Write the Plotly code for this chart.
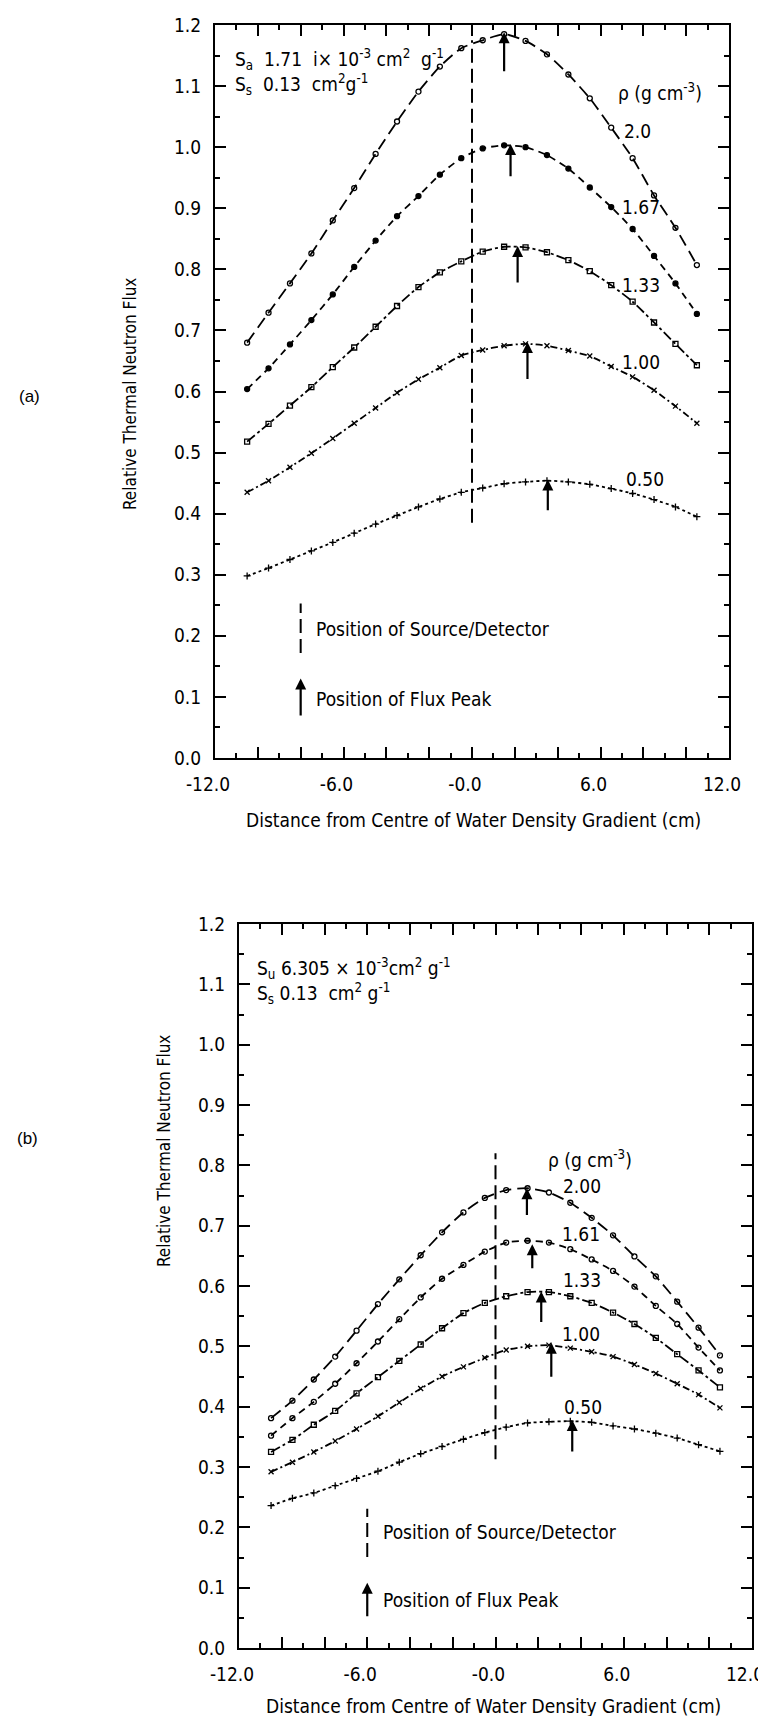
import plotly.graph_objects as go

# ---------------- data ----------------
x_pos = [-10.5, -9.5, -8.5, -7.5, -6.5, -5.5, -4.5, -3.5, -2.5, -1.5, -0.5,
         0.5, 1.5, 2.5, 3.5, 4.5, 5.5, 6.5, 7.5, 8.5, 9.5, 10.5]

# (a)
a_labels = ["2.0", "1.67", "1.33", "1.00", "0.50"]
a_200 = [0.680, 0.729, 0.777, 0.826, 0.880, 0.933, 0.989, 1.042, 1.091, 1.132, 1.162,
         1.175, 1.185, 1.174, 1.152, 1.119, 1.080, 1.032, 0.982, 0.921, 0.868, 0.807]
a_167 = [0.604, 0.638, 0.677, 0.717, 0.759, 0.804, 0.847, 0.887, 0.920, 0.955, 0.982,
         0.998, 1.003, 1.000, 0.987, 0.965, 0.934, 0.902, 0.866, 0.822, 0.777, 0.727]
a_133 = [0.518, 0.547, 0.577, 0.607, 0.640, 0.672, 0.706, 0.740, 0.771, 0.795, 0.813,
         0.829, 0.837, 0.836, 0.828, 0.815, 0.797, 0.774, 0.747, 0.713, 0.678, 0.643]
a_100 = [0.435, 0.454, 0.476, 0.499, 0.523, 0.548, 0.573, 0.598, 0.620, 0.639, 0.659,
         0.668, 0.675, 0.678, 0.675, 0.667, 0.658, 0.641, 0.624, 0.602, 0.576, 0.548]
a_050 = [0.298, 0.311, 0.325, 0.339, 0.353, 0.368, 0.383, 0.397, 0.411, 0.424, 0.435,
         0.442, 0.449, 0.452, 0.454, 0.452, 0.448, 0.441, 0.433, 0.423, 0.411, 0.395]
a_label_x = [7.75, 7.9, 7.9, 7.9, 8.1]
a_label_y = [1.027, 0.902, 0.775, 0.649, 0.456]
a_peak_x = [1.5, 1.8, 2.13, 2.59, 3.54]
a_peak_tip = [1.188, 1.005, 0.838, 0.681, 0.456]
a_peak_base = [1.122, 0.950, 0.776, 0.618, 0.403]
a_source_y = [0.385, 1.175]

# (b)
b_labels = ["2.00", "1.61", "1.33", "1.00", "0.50"]
b_200 = [0.381, 0.410, 0.445, 0.483, 0.526, 0.570, 0.611, 0.651, 0.689, 0.722, 0.746,
         0.759, 0.762, 0.755, 0.738, 0.713, 0.684, 0.649, 0.616, 0.574, 0.531, 0.485]
b_161 = [0.352, 0.381, 0.408, 0.438, 0.472, 0.508, 0.545, 0.581, 0.612, 0.635, 0.657,
         0.672, 0.675, 0.672, 0.661, 0.644, 0.625, 0.599, 0.567, 0.537, 0.498, 0.460]
b_133 = [0.325, 0.345, 0.370, 0.393, 0.422, 0.449, 0.476, 0.503, 0.530, 0.555, 0.572,
         0.583, 0.590, 0.590, 0.583, 0.572, 0.556, 0.537, 0.514, 0.487, 0.460, 0.432]
b_100 = [0.292, 0.308, 0.325, 0.343, 0.363, 0.384, 0.407, 0.430, 0.450, 0.466, 0.481,
         0.494, 0.500, 0.502, 0.497, 0.491, 0.483, 0.470, 0.455, 0.438, 0.420, 0.398]
b_050 = [0.236, 0.248, 0.257, 0.269, 0.281, 0.293, 0.308, 0.322, 0.334, 0.346, 0.357,
         0.366, 0.373, 0.375, 0.376, 0.374, 0.368, 0.363, 0.356, 0.348, 0.337, 0.326]
b_label_x = [4.06, 3.98, 4.06, 3.98, 4.1]
b_label_y = [0.766, 0.686, 0.610, 0.521, 0.399]
b_peak_x = [1.47, 1.72, 2.14, 2.61, 3.59]
b_peak_tip = [0.762, 0.669, 0.591, 0.506, 0.378]
b_peak_base = [0.715, 0.627, 0.538, 0.447, 0.323]
b_source_y = [0.313, 0.82]

x_tickvals = [-12, -10, -8, -6, -4, -2, 0, 2, 4, 6, 8, 10, 12]
x_ticktext = ["-12.0", "", "", "-6.0", "", "", "-0.0", "", "", "6.0", "", "", "12.0"]
y_tickvals = [0.0, 0.1, 0.2, 0.3, 0.4, 0.5, 0.6, 0.7, 0.8, 0.9, 1.0, 1.1, 1.2]

# ---------------- style ----------------
FONT = "DejaVu Sans Condensed, Liberation Sans Narrow, Roboto Condensed, DejaVu Sans, sans-serif"
dashes = ["12px,6px", "7px,5px", "10px,3px,3px,3px", "7px,3px,2px,3px", "3px,3px"]
a_symbols = ["circle-open", "circle", "square-open", "x-thin-open", "cross-thin-open"]
b_symbols = ["circle-open", "circle-open", "square-open", "x-thin-open", "cross-thin-open"]

fig = go.Figure()

def add_panel(xa, ya, series, symbols):
    for vals, dsh, sym in zip(series, dashes, symbols):
        fig.add_trace(go.Scatter(
            x=x_pos, y=vals, mode="lines+markers", xaxis=xa, yaxis=ya,
            line=dict(color="black", width=1.8, dash=dsh, shape="spline", smoothing=0.6),
            marker=dict(symbol=sym, size=5, color="black", line=dict(color="black", width=1.3)),
            showlegend=False, hoverinfo="skip"))

add_panel("x", "y", [a_200, a_167, a_133, a_100, a_050], a_symbols)
add_panel("x2", "y2", [b_200, b_161, b_133, b_100, b_050], b_symbols)

# source/detector vertical lines at x=0 and legend glyphs
for xa, ya, ys, legx, legy in [("x", "y", a_source_y, -8.0, [0.172, 0.253]),
                               ("x2", "y2", b_source_y, -6.0, [0.151, 0.231])]:
    fig.add_trace(go.Scatter(x=[0, 0], y=ys, mode="lines", xaxis=xa, yaxis=ya,
                             line=dict(color="black", width=2, dash="14px,6px"),
                             showlegend=False, hoverinfo="skip"))
    fig.add_trace(go.Scatter(x=[legx, legx], y=legy, mode="lines", xaxis=xa, yaxis=ya,
                             line=dict(color="black", width=2, dash="14px,6px"),
                             showlegend=False, hoverinfo="skip"))

ann = []

def arrow(xr, yr, x, tip, base):
    ann.append(dict(x=x, y=tip, ax=x, ay=base, xref=xr, yref=yr, axref=xr, ayref=yr,
                    text="", showarrow=True, arrowhead=2, arrowsize=1.0, arrowwidth=2.2,
                    arrowcolor="black", standoff=0, startstandoff=0))

for px, t, b in zip(a_peak_x, a_peak_tip, a_peak_base):
    arrow("x", "y", px, t, b)
for px, t, b in zip(b_peak_x, b_peak_tip, b_peak_base):
    arrow("x2", "y2", px, t, b)
arrow("x", "y", -8.0, 0.13, 0.067)
arrow("x2", "y2", -6.0, 0.108, 0.05)

def txt(xr, yr, x, y, s, size=19, xanchor="center"):
    ann.append(dict(x=x, y=y, xref=xr, yref=yr, text=s, showarrow=False,
                    xanchor=xanchor, yanchor="middle", font=dict(family=FONT, size=size, color="black")))

for lx, ly, s in zip(a_label_x, a_label_y, a_labels):
    txt("x", "y", lx, ly, s)
for lx, ly, s in zip(b_label_x, b_label_y, b_labels):
    txt("x2", "y2", lx, ly, s)

txt("x", "y", 8.8, 1.09, "ρ (g cm<sup>-3</sup>)")
txt("x2", "y2", 4.4, 0.81, "ρ (g cm<sup>-3</sup>)")

txt("x", "y", -11.15, 1.144, "S<sub>a</sub>  1.71  i× 10<sup>-3</sup> cm<sup>2</sup>  g<sup>-1</sup>", xanchor="left")
txt("x", "y", -11.15, 1.103, "S<sub>s</sub>  0.13  cm<sup>2</sup>g<sup>-1</sup>", xanchor="left")
txt("x2", "y2", -11.25, 1.126, "S<sub>u</sub> 6.305 × 10<sup>-3</sup>cm<sup>2</sup> g<sup>-1</sup>", xanchor="left")
txt("x2", "y2", -11.25, 1.084, "S<sub>s</sub> 0.13  cm<sup>2</sup> g<sup>-1</sup>", xanchor="left")

txt("x", "y", -7.4, 0.211, "Position of Source/Detector", xanchor="left")
txt("x", "y", -7.4, 0.097, "Position of Flux Peak", xanchor="left")
txt("x2", "y2", -5.35, 0.192, "Position of Source/Detector", xanchor="left")
txt("x2", "y2", -5.35, 0.080, "Position of Flux Peak", xanchor="left")

# paper-level labels
def ptxt(x, y, s, angle=0, size=19, family=FONT):
    ann.append(dict(x=x / 766, y=1 - y / 1716, xref="paper", yref="paper", text=s,
                    showarrow=False, textangle=angle, xanchor="center", yanchor="middle",
                    font=dict(family=family, size=size, color="black")))

ptxt(122, 386, "Relative Thermal Neutron Flux", angle=-90, size=17)
ptxt(156, 1143, "Relative Thermal Neutron Flux", angle=-90, size=17)
ptxt(465, 812, "Distance from Centre of Water Density Gradient (cm)", size=19)
ptxt(486, 1698, "Distance from Centre of Water Density Gradient (cm)", size=19)
ptxt(21, 388, "(a)", size=17, family="Liberation Sans, Arial, sans-serif")
ptxt(19, 1130, "(b)", size=17, family="Liberation Sans, Arial, sans-serif")

# ---------------- axes ----------------
def xax(domain, anchor):
    return dict(domain=domain, anchor=anchor, range=[-12, 12], showgrid=False, zeroline=False,
                showline=True, linecolor="black", linewidth=2, mirror="allticks",
                ticks="inside", ticklen=11, tickwidth=2, tickcolor="black",
                tickmode="array", tickvals=x_tickvals, ticktext=x_ticktext,
                ticklabelstandoff=8, ticklabelshift=-7,
                minor=dict(ticks="inside", ticklen=5, tickwidth=2, tickcolor="black",
                           tickmode="linear", tick0=-12, dtick=1, showgrid=False),
                tickfont=dict(family=FONT, size=19, color="black"), fixedrange=True)

def yax(domain, anchor):
    return dict(domain=domain, anchor=anchor, range=[0, 1.2], showgrid=False, zeroline=False,
                showline=True, linecolor="black", linewidth=2, mirror="allticks",
                ticks="inside", ticklen=11, tickwidth=2, tickcolor="black",
                tickmode="array", tickvals=y_tickvals, tickformat=".1f",
                ticklabelstandoff=8,
                minor=dict(ticks="inside", ticklen=5, tickwidth=2, tickcolor="black",
                           tickmode="linear", tick0=0, dtick=0.05, showgrid=False),
                tickfont=dict(family=FONT, size=19, color="black"), fixedrange=True)

W, H = 766, 1716
fig.update_layout(
    width=W, height=H, margin=dict(l=0, r=0, t=0, b=0, autoexpand=False),
    paper_bgcolor="white", plot_bgcolor="white",
    xaxis=xax([207 / W, 721 / W], "y"),
    yaxis=yax([1 - 750 / H, 1 - 17 / H], "x"),
    xaxis2=xax([231 / W, 744 / W], "y2"),
    yaxis2=yax([1 - 1640 / H, 1 - 916 / H], "x2"),
    annotations=ann,
    showlegend=False,
)

fig.write_html("out.html")
